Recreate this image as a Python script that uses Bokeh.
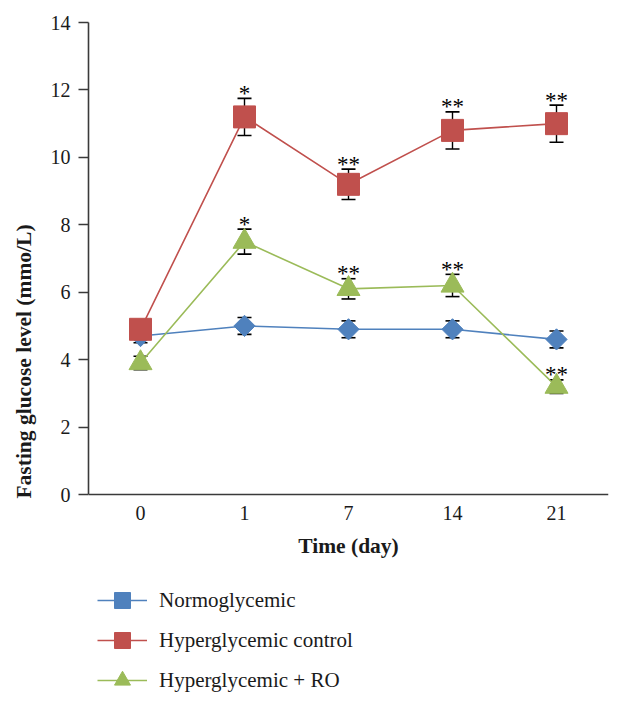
import numpy as np
from bokeh.plotting import figure
from bokeh.models import ColumnDataSource, Whisker, TeeHead, Legend, LegendItem, FixedTicker
from bokeh.core.properties import value
from bokeh.embed import file_html
from bokeh.resources import INLINE

# ---- data ----
days = ["0", "1", "7", "14", "21"]
normo = [4.7, 5.0, 4.9, 4.9, 4.6]
normo_err = [0.2, 0.25, 0.25, 0.25, 0.25]
hyper = [4.9, 11.2, 9.2, 10.8, 11.0]
hyper_err = [0.25, 0.55, 0.45, 0.55, 0.55]
ro = [3.9, 7.5, 6.1, 6.2, 3.2]
ro_err = [0.2, 0.37, 0.3, 0.33, 0.2]
hyper_sig = ["", "*", "**", "**", "**"]
ro_sig = ["", "*", "**", "**", "**"]
series_names = ["Normoglycemic", "Hyperglycemic control", "Hyperglycemic + RO"]
y_ticks = [0, 2, 4, 6, 8, 10, 12, 14]
y_max = 14

FONT = "Liberation Serif"
BLUE = "#4F81BD"
RED = "#C0504D"
GREEN = "#9BBB59"

# the plotting frame reaches down to hold the legend; the value axis spans 0..14
FRAME_H = 678
AXIS_PX = 472
y_bottom = y_max - FRAME_H * y_max / AXIS_PX

p = figure(frame_width=520, frame_height=FRAME_H,
           x_range=(-0.5, 4.5), y_range=(y_bottom, y_max),
           output_backend="svg", toolbar_location=None,
           min_border_left=88, min_border_right=12, min_border_top=22,
           min_border_bottom=0)
p.outline_line_color = None
p.grid.visible = False
p.background_fill_color = "white"

xs = list(range(len(days)))

def make_src(vals, errs, sig=None):
    d = dict(x=xs, y=vals,
             upper=[v + e for v, e in zip(vals, errs)],
             lower=[v - e for v, e in zip(vals, errs)])
    if sig is not None:
        d["sig"] = sig
    return ColumnDataSource(d)

srcs = [make_src(normo, normo_err), make_src(hyper, hyper_err, hyper_sig),
        make_src(ro, ro_err, ro_sig)]
colors = [BLUE, RED, GREEN]
markers = ["square", "square", "triangle"]
sizes = [15, 22, 23]
angles = [np.pi / 4, 0, 0]

items = []
for src, c, m, s, a, name in zip(srcs, colors, markers, sizes, angles, series_names):
    w = Whisker(source=src, base="x", upper="upper", lower="lower",
                line_color="black", line_width=1.4, level="underlay",
                upper_head=TeeHead(size=14, line_color="black", line_width=1.6),
                lower_head=TeeHead(size=14, line_color="black", line_width=1.6))
    p.add_layout(w)
    lr = p.line("x", "y", source=src, line_color=c, line_width=1.6)
    sr = p.scatter("x", "y", source=src, marker=m, size=s, angle=a,
                   fill_color=c, line_color=c, line_width=1)
    items.append(LegendItem(label=name, renderers=[lr, sr]))

for src in srcs[1:]:
    p.text(x="x", y="upper", text="sig", source=src,
           text_font=value(FONT), text_font_size="23px", text_color="black",
           text_align="center", text_baseline="alphabetic", y_offset=-5)

# axes
p.xaxis.fixed_location = 0
p.xaxis.ticker = FixedTicker(ticks=xs)
p.xaxis.major_label_overrides = {i: d for i, d in enumerate(days)}
p.xaxis.major_tick_out = 0
p.xaxis.major_tick_in = 0
p.xaxis.minor_tick_line_color = None
p.xaxis.major_label_standoff = 11
p.xaxis.axis_label = "Time (day)"
p.xaxis.axis_label_standoff = 11

p.yaxis.ticker = FixedTicker(ticks=y_ticks)
p.yaxis.bounds = (0, y_max)
p.yaxis.major_tick_out = 10
p.yaxis.major_tick_in = 0
p.yaxis.minor_tick_line_color = None
p.yaxis.major_label_standoff = 8
p.yaxis.axis_label = "Fasting glucose level (mmo/L)"
p.yaxis.axis_label_standoff = 12

for ax in [p.xaxis, p.yaxis]:
    ax.axis_line_color = "#3a3a3a"
    ax.axis_line_width = 1.6
    ax.major_tick_line_width = 1.6
    ax.major_label_text_font = FONT
    ax.major_label_text_font_size = "20px"
    ax.major_label_text_color = "#1a1a1a"
    ax.axis_label_text_font = FONT
    ax.axis_label_text_font_size = "21.5px"
    ax.axis_label_text_font_style = "bold"
    ax.axis_label_text_color = "#1a1a1a"
p.xaxis.major_tick_line_color = None
p.yaxis.major_tick_line_color = "#3a3a3a"

legend = Legend(items=items, location=(9, 0), orientation="vertical",
                glyph_width=50, glyph_height=40, label_height=40,
                label_standoff=12, spacing=0, padding=0, margin=0,
                background_fill_alpha=0, border_line_color=None,
                label_text_font=FONT, label_text_font_size="21px",
                label_text_color="#1a1a1a")
p.add_layout(legend)

open("out.html", "w").write(file_html(p, INLINE))
